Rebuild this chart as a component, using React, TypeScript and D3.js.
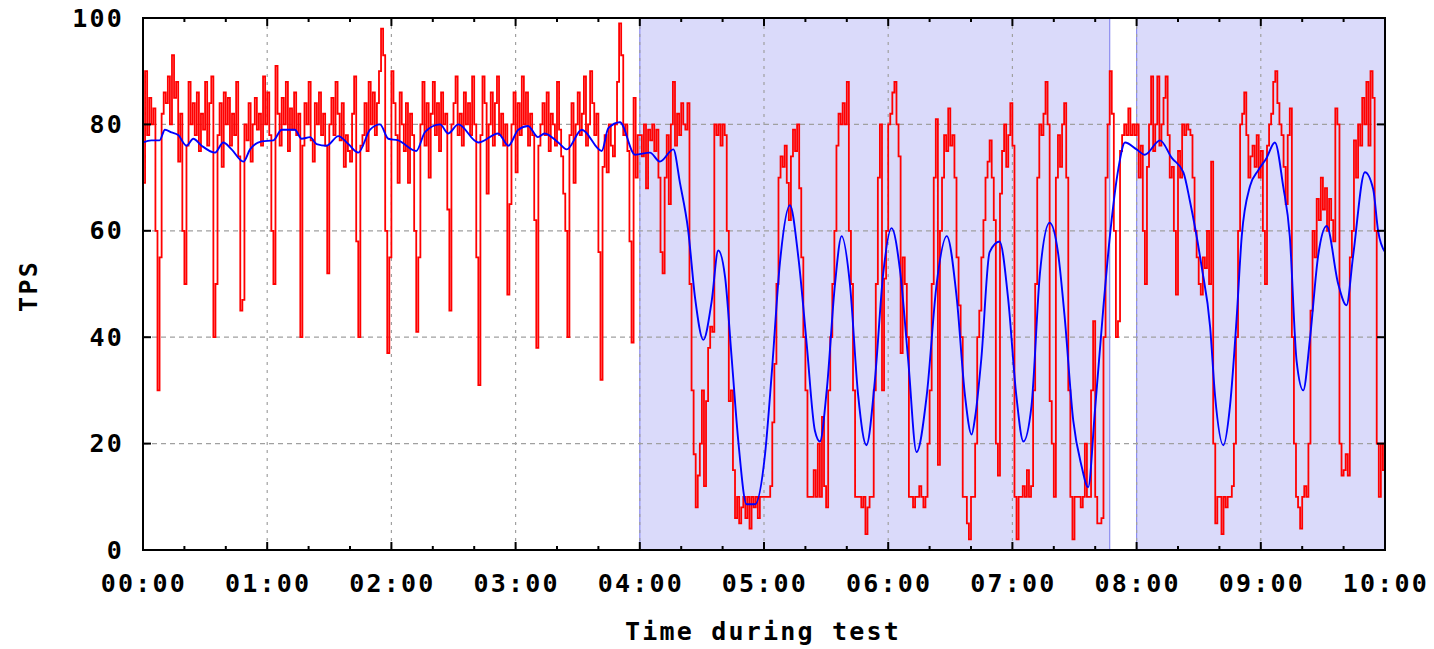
import React, { useRef, useEffect } from 'react';
import * as d3 from 'd3';

// x axis runs in seconds (00:00 .. 10:00 = 600 s)
const xTickLabels = ['00:00', '01:00', '02:00', '03:00', '04:00', '05:00', '06:00', '07:00', '08:00', '09:00', '10:00'];
const yTicks = [0, 20, 40, 60, 80, 100];
const shadedSpans = [[240, 467], [480, 600]];

// TPS per second (red)
const tps = [
  69, 90, 78, 85, 80, 83, 60, 30, 55, 82,
  86, 84, 89, 80, 93, 85, 88, 73, 82, 60,
  50, 76, 88, 80, 84, 78, 86, 75, 82, 79,
  88, 76, 84, 89, 40, 50, 78, 84, 72, 86,
  80, 85, 76, 82, 78, 88, 74, 45, 47, 80,
  77, 84, 73, 80, 85, 79, 82, 76, 89, 80,
  86, 78, 60, 50, 91, 82, 76, 85, 80, 88,
  75, 83, 79, 86, 78, 82, 40, 76, 84, 80,
  88, 77, 73, 84, 80, 86, 78, 82, 76, 52,
  80, 85, 78, 88, 82, 77, 84, 72, 78, 75,
  73, 82, 89, 58, 40, 76, 78, 84, 75, 88,
  80, 86, 78, 84, 90, 98, 93, 60, 37, 55,
  90, 84, 78, 69, 86, 80, 75, 84, 69, 82,
  78, 60, 41, 55, 80, 88, 76, 84, 70, 82,
  88, 78, 84, 75, 86, 80, 82, 64, 45, 80,
  84, 89, 78, 82, 76, 86, 80, 84, 78, 89,
  80, 55, 31, 78, 89, 84, 67, 80, 86, 76,
  84, 89, 78, 82, 76, 80, 48, 65, 80, 86,
  71, 84, 78, 89, 80, 86, 76, 82, 78, 62,
  38, 76, 80, 84, 78, 86, 75, 82, 80, 76,
  88, 79, 74, 67, 60, 40, 78, 84, 69, 80,
  86, 78, 82, 89, 76, 80, 90, 84, 78, 82,
  56, 32, 72, 78, 71, 80, 76, 74, 80, 88,
  99, 93, 78, 80, 75, 58, 39, 85, 70, 78,
  78, 74, 80, 68, 79, 77, 80, 75, 79, 70,
  56, 52, 70, 78, 65, 80, 88, 76, 82, 78,
  84, 80, 79, 84, 50, 30, 18, 8, 14, 20,
  30, 12, 28, 38, 42, 41, 80, 78, 80, 76,
  80, 78, 60, 28, 30, 15, 6, 10, 5, 8,
  10, 6, 10, 4, 10, 8, 10, 6, 10, 10,
  10, 10, 10, 12, 24, 35, 50, 70, 74, 72,
  76, 69, 62, 74, 79, 75, 80, 68, 55, 40,
  30, 10, 10, 10, 15, 10, 20, 10, 25, 12,
  8, 30, 40, 50, 60, 76, 82, 80, 84, 80,
  88, 60, 50, 30, 10, 10, 10, 8, 10, 3,
  8, 10, 10, 30, 50, 70, 80, 30, 51, 60,
  80, 82, 86, 88, 80, 74, 37, 55, 50, 40,
  10, 10, 8, 10, 10, 12, 10, 8, 10, 20,
  30, 50, 70, 81, 16, 60, 70, 78, 75, 83,
  76, 78, 70, 55, 46, 40, 10, 10, 5, 2,
  10, 10, 20, 40, 45, 55, 62, 70, 73, 77,
  70, 62, 20, 14, 67, 75, 80, 72, 78, 84,
  76, 10, 2, 10, 10, 12, 10, 15, 10, 12,
  30, 50, 70, 80, 78, 82, 88, 80, 28, 20,
  10, 70, 78, 72, 80, 84, 70, 30, 10, 2,
  10, 10, 10, 8, 10, 20, 10, 10, 30, 43,
  10, 5, 5, 6, 40, 70, 80, 90, 82, 60,
  40, 43, 75, 78, 80, 78, 83, 78, 80, 78,
  80, 70, 76, 60, 50, 72, 80, 89, 75, 80,
  89, 76, 80, 85, 89, 78, 70, 72, 60, 48,
  75, 70, 80, 78, 80, 79, 78, 70, 60, 55,
  50, 48, 55, 53, 60, 50, 73, 20, 5, 10,
  10, 3, 10, 8, 10, 10, 12, 20, 40, 60,
  80, 82, 86, 78, 70, 74, 76, 72, 78, 70,
  75, 60, 50, 76, 80, 82, 88, 90, 84, 80,
  78, 72, 65, 78, 83, 40, 20, 10, 8, 4,
  10, 12, 10, 20, 45, 60, 55, 66, 62, 70,
  64, 68, 60, 66, 62, 58, 83, 80, 20, 14,
  15, 18, 14, 55, 60, 77, 70, 80, 76, 85,
  80, 88, 76, 90, 85, 60, 20, 10, 20, 15,
];

// smoothed TPS (blue), read at these seconds
const avgSeconds = [
  0, 4, 8, 10.6, 13.8, 17, 21, 24.3, 28.3, 34.8, 38.8, 42.8, 48.5, 51.7, 57.3, 63, 67, 73.4, 76.6, 80.7,
  83.9, 88.7, 94.4, 99.2, 104, 109.7, 114.5, 118.5, 123.3, 132, 136.3, 143.5, 147.5, 152.3, 162, 171.6,
  176.5, 181.3, 186, 190.8, 194, 200.6, 204.7, 212, 221.6, 224.8, 230.4, 237.7, 244.9, 249.7, 256.2,
  259.4, 263.4, 266.7, 270.7, 274.7, 277.9, 281.2, 284.4, 287.6, 291.6, 295.7, 300.5, 303.7, 307.7,
  312.5, 316.6, 320.6, 324.6, 327, 330.3, 334.3, 337.5, 341.5, 345.5, 349.5, 353.5, 357.6, 361.6,
  365.7, 369.7, 373.7, 378.6, 383.4, 388.3, 393.1, 397.1, 400.3, 402, 405, 409, 413.8, 417.9, 421.9,
  425.3, 429.2, 433.3, 438, 442, 445.2, 449.4, 453.4, 456.6, 459.9, 463.9, 467.1, 471.2, 474.4, 480,
  484, 491.3, 497, 502.6, 505.8, 511.4, 515.5, 517.9, 521.9, 525.1, 528.3, 530.8, 534.8, 538.8, 542.8,
  546.8, 550.8, 554, 557.3, 560.5, 563.7, 567.7, 571.8, 577.4, 581.4, 584.6, 590.3, 594.3, 596.7, 600,
];
const avgTps = [
  76.6, 77, 77, 79, 78.5, 78, 76, 77.3, 76, 74.7, 76.6, 75.3, 73, 75.3, 76.8, 77, 79, 79, 77.3, 77.6,
  76.3, 76, 77.8, 76.3, 74.7, 79, 80, 77.3, 77, 75, 78.6, 80, 78.3, 80, 76.6, 78.3,
  76, 79, 79.7, 77.6, 78.3, 76.6, 75.3, 79, 75, 79.3, 80.4, 74.3, 74.7, 73, 75.3,
  69, 60, 47.4, 39.5, 46.7, 56.3, 51.3, 36, 20.4, 8.6, 8.6, 18, 33, 54,
  64.8, 55, 38.8, 22.4, 20.4, 30, 50, 59, 50, 29, 19.7, 31.6, 52, 60.5,
  52.6, 35.5, 18.4, 29, 50, 59, 47.4, 29, 21.7, 25, 36, 56, 58, 47.4, 29,
  20.4, 27, 52, 61.5, 56, 44, 24.3, 15.8, 11.8, 26.3, 45.4, 59, 71.7, 76.6, 75.3,
  74.3, 77, 73.7, 71, 65.5, 53.3, 42, 29, 19.7, 27, 43.4, 59, 68.4, 71.4, 73.7,
  76.6, 68.4, 59, 35.5, 30, 39.5, 55.3, 60.9, 50, 46, 55.3, 71, 67.8, 59.9, 56,
];

const FONT = "'DejaVu Sans Mono', monospace";

function TpsChart() {
  const chartRef = useRef(null);

  useEffect(() => {
    drawChart();
  }, []);

  const drawChart = () => {
    const width = 1434;
    const height = 649;
    const left = 143, right = 1385, top = 18, bottom = 550;

    const svg = d3.select(chartRef.current);
    svg.selectAll('*').remove();

    const x = d3.scaleLinear().domain([0, 600]).range([left, right]);
    const y = d3.scaleLinear().domain([0, 100]).range([bottom, top]);

    svg.append('rect').attr('width', width).attr('height', height).attr('fill', '#fff');

    // shaded periods
    svg
      .selectAll('rect.span')
      .data(shadedSpans)
      .enter()
      .append('rect')
      .attr('class', 'span')
      .attr('x', (d) => x(d[0]))
      .attr('y', top)
      .attr('width', (d) => x(d[1]) - x(d[0]))
      .attr('height', bottom - top)
      .attr('fill', '#dadafa')
      .attr('stroke', '#8c8cf0')
      .attr('stroke-width', 1.2);

    // grid
    const grid = svg.append('g').attr('stroke', '#a0a0a0').attr('stroke-width', 1.2);
    yTicks.slice(1, -1).forEach((v) => {
      grid.append('line')
        .attr('x1', left).attr('x2', right)
        .attr('y1', y(v)).attr('y2', y(v))
        .attr('stroke-dasharray', '5,4');
    });
    xTickLabels.slice(1, -1).forEach((_, i) => {
      const t = (i + 1) * 60;
      grid.append('line')
        .attr('x1', x(t)).attr('x2', x(t))
        .attr('y1', top).attr('y2', bottom)
        .attr('stroke-dasharray', '3,5');
    });

    // raw tps
    const redLine = d3
      .line()
      .x((d) => x(d[0]))
      .y((d) => y(d[1]))
      .curve(d3.curveStepAfter);
    const redPts = tps.map((v, i) => [i, v]);
    redPts.push([600, tps[tps.length - 1]]);
    svg.append('path')
      .attr('d', redLine(redPts))
      .attr('fill', 'none')
      .attr('stroke', '#ff0000')
      .attr('stroke-width', 1.8);

    // smoothed tps
    const blueLine = d3
      .line()
      .x((d) => x(d[0]))
      .y((d) => y(d[1]))
      .curve(d3.curveMonotoneX);
    svg.append('path')
      .attr('d', blueLine(avgSeconds.map((s, i) => [s, avgTps[i]])))
      .attr('fill', 'none')
      .attr('stroke', '#0000ff')
      .attr('stroke-width', 1.9);

    // frame + ticks
    svg.append('rect')
      .attr('x', left).attr('y', top)
      .attr('width', right - left).attr('height', bottom - top)
      .attr('fill', 'none').attr('stroke', '#000').attr('stroke-width', 2);

    const ticks = svg.append('g').attr('stroke', '#000').attr('stroke-width', 2);
    d3.range(0, 601, 20).forEach((t) => {
      const len = t % 60 === 0 ? 8 : 4;
      ticks.append('line').attr('x1', x(t)).attr('x2', x(t)).attr('y1', bottom).attr('y2', bottom - len);
      ticks.append('line').attr('x1', x(t)).attr('x2', x(t)).attr('y1', top).attr('y2', top + len);
    });
    yTicks.forEach((v) => {
      ticks.append('line').attr('x1', left).attr('x2', left + 8).attr('y1', y(v)).attr('y2', y(v));
      ticks.append('line').attr('x1', right).attr('x2', right - 8).attr('y1', y(v)).attr('y2', y(v));
    });

    // labels
    const lab = svg.append('g')
      .attr('font-family', FONT)
      .attr('font-weight', 'bold')
      .attr('font-size', 25)
      .attr('letter-spacing', 2.2)
      .attr('fill', '#000');

    yTicks.forEach((v) => {
      lab.append('text')
        .attr('x', 124).attr('y', y(v))
        .attr('text-anchor', 'end')
        .attr('dominant-baseline', 'central')
        .text(String(v));
    });
    xTickLabels.forEach((s, i) => {
      lab.append('text')
        .attr('x', x(i * 60) + 1).attr('y', 583)
        .attr('text-anchor', 'middle')
        .attr('dominant-baseline', 'central')
        .text(s);
    });
    lab.append('text')
      .attr('x', 763).attr('y', 631)
      .attr('text-anchor', 'middle')
      .attr('dominant-baseline', 'central')
      .text('Time during test');
    lab.append('text')
      .attr('transform', 'translate(28,286) rotate(-90)')
      .attr('text-anchor', 'middle')
      .attr('dominant-baseline', 'central')
      .text('TPS');
  };

  return <svg ref={chartRef} width={1434} height={649} style={{ display: 'block' }} />;
}

export default function App() {
  useEffect(() => {
    document.body.style.margin = '0';
  }, []);
  return <TpsChart />;
}
